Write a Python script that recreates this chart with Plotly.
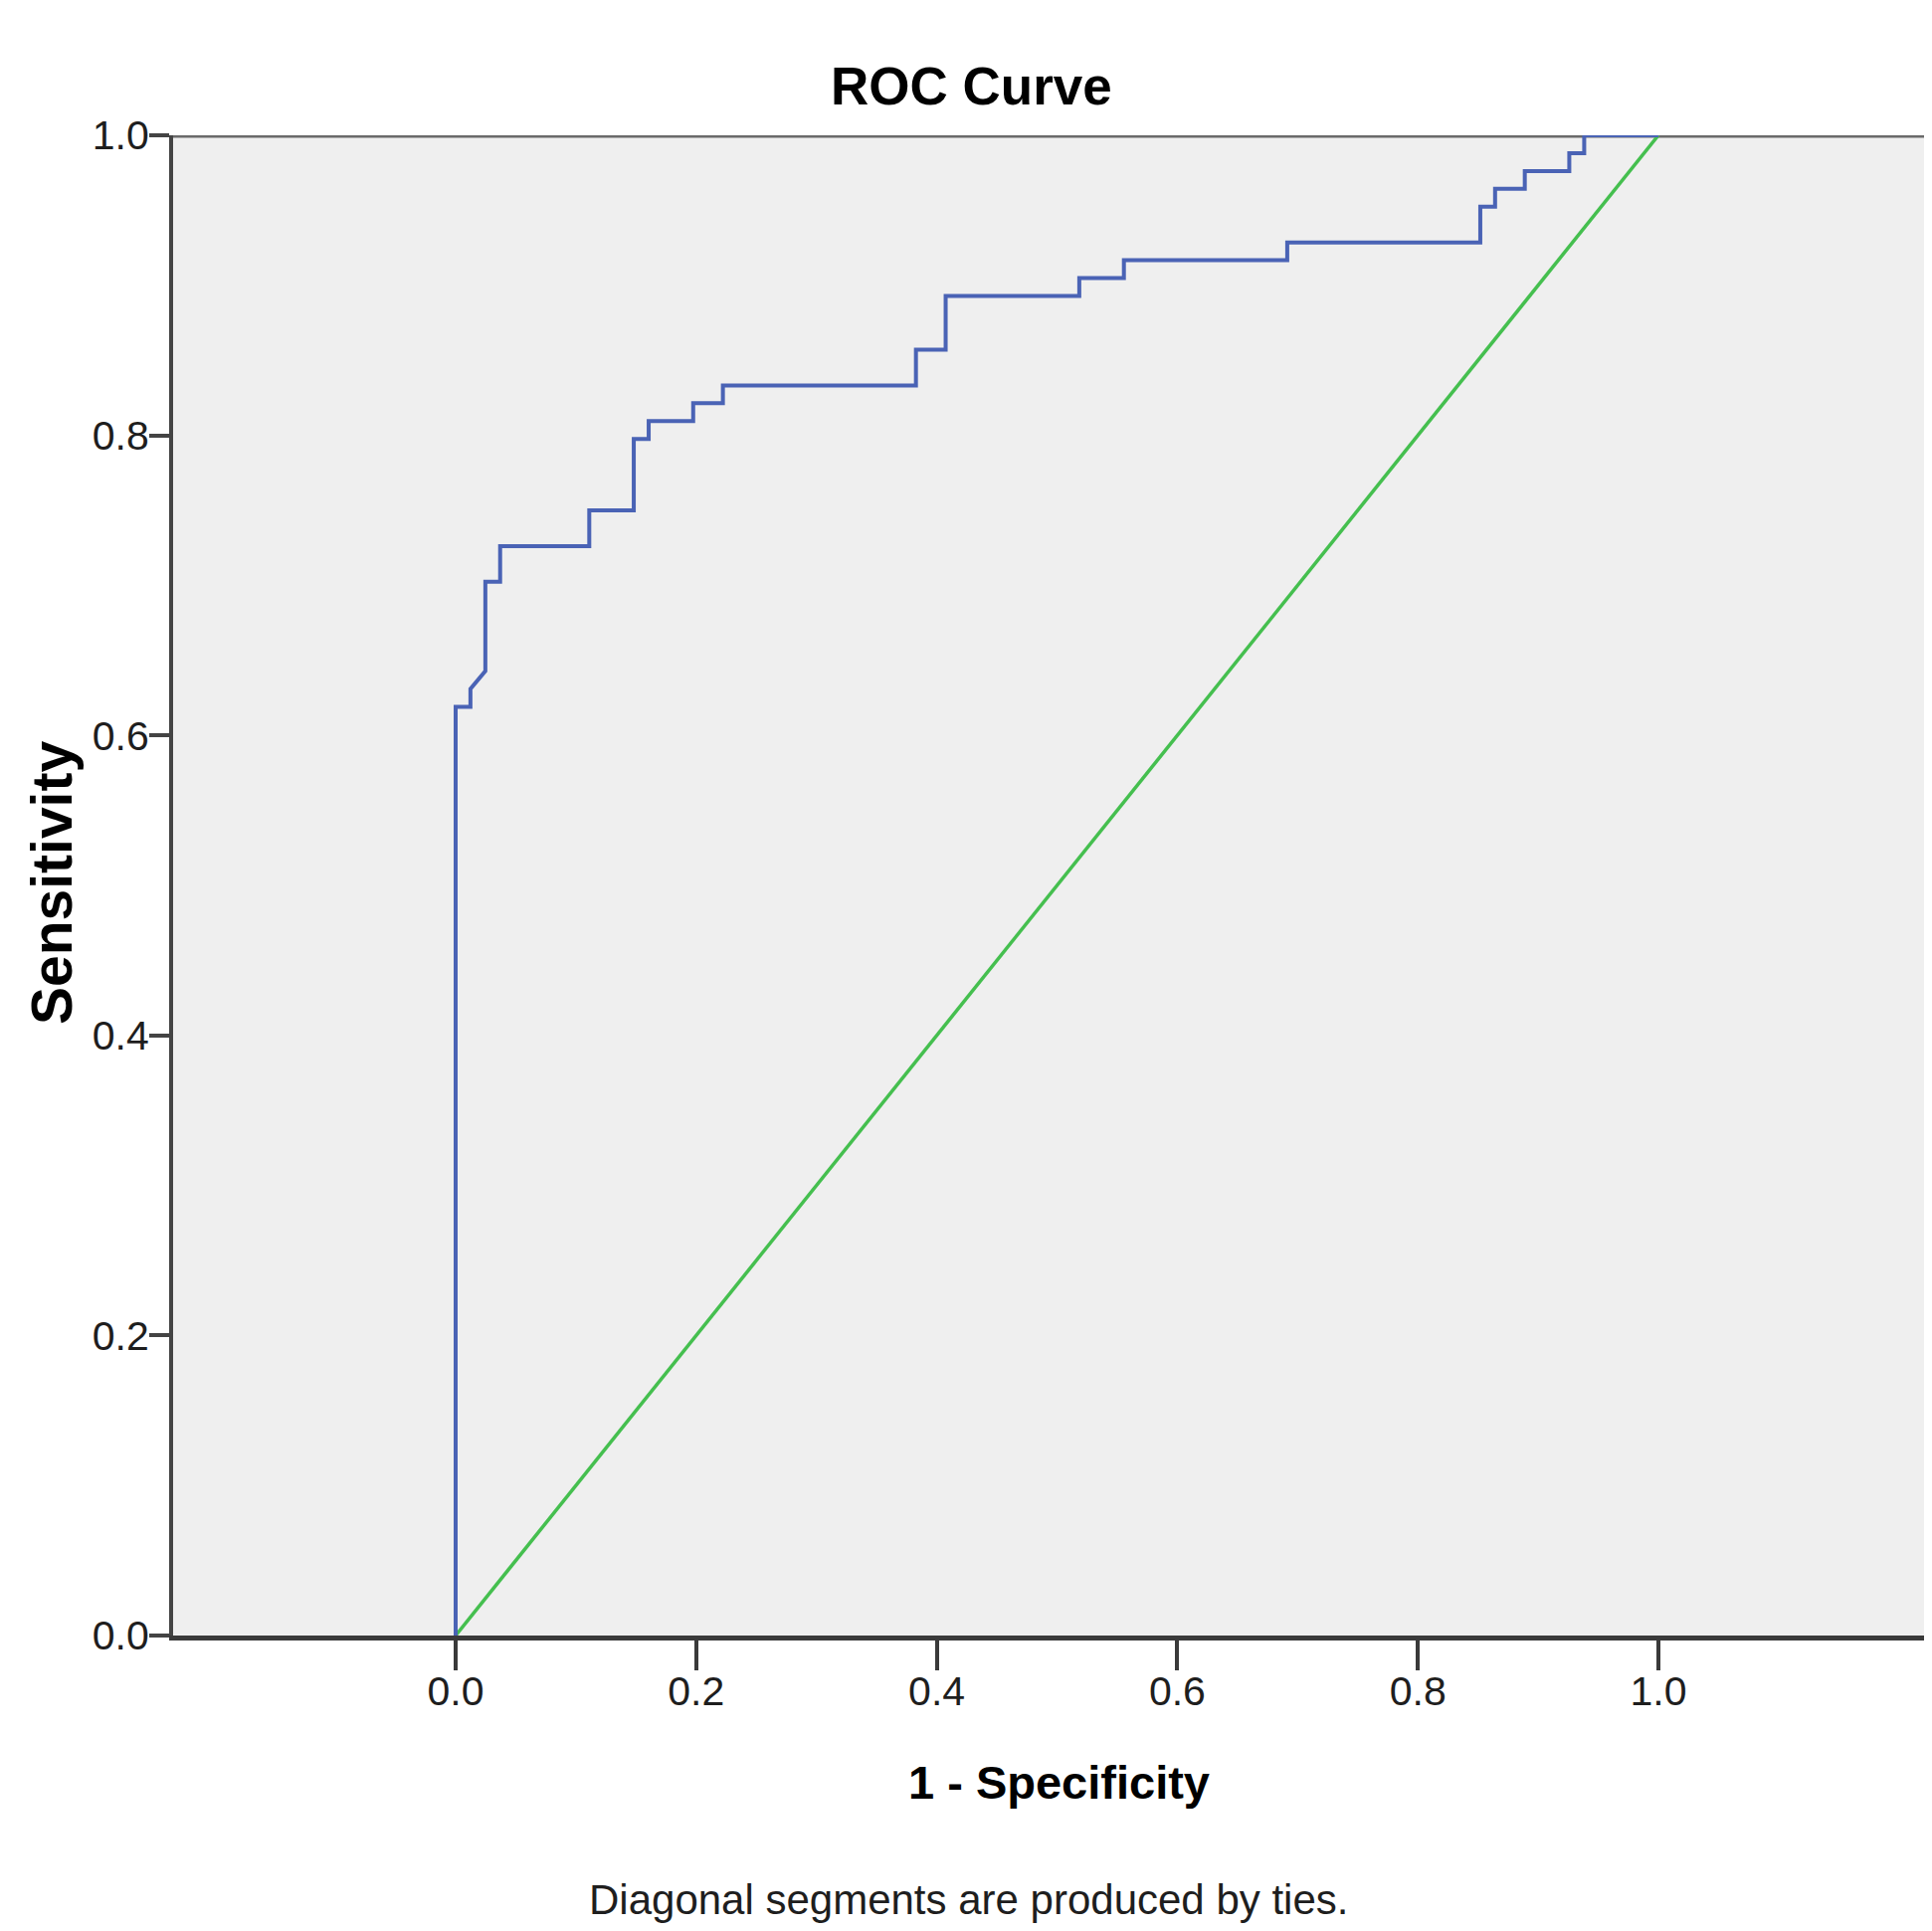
import plotly.graph_objects as go

# ROC curve points (1 - specificity, sensitivity)
fpr = [0.0, 0.0, 0.0123, 0.0123, 0.0247, 0.0247, 0.0370, 0.0370, 0.1111, 0.1111,
       0.1481, 0.1481, 0.1605, 0.1605, 0.1975, 0.1975, 0.2222, 0.2222, 0.3827, 0.3827,
       0.4074, 0.4074, 0.5185, 0.5185, 0.5556, 0.5556, 0.6914, 0.6914, 0.8519, 0.8519,
       0.8642, 0.8642, 0.8889, 0.8889, 0.9259, 0.9259, 0.9383, 0.9383, 1.0]
tpr = [0.0, 0.6190, 0.6190, 0.6310, 0.6429, 0.7024, 0.7024, 0.7262, 0.7262, 0.7500,
       0.7500, 0.7976, 0.7976, 0.8095, 0.8095, 0.8214, 0.8214, 0.8333, 0.8333, 0.8571,
       0.8571, 0.8929, 0.8929, 0.9048, 0.9048, 0.9167, 0.9167, 0.9286, 0.9286, 0.9524,
       0.9524, 0.9643, 0.9643, 0.9762, 0.9762, 0.9881, 0.9881, 1.0, 1.0]
ref_x = [0.0, 1.0]
ref_y = [0.0, 1.0]

tick_vals = [0.0, 0.2, 0.4, 0.6, 0.8, 1.0]
tick_text = ["0.0", "0.2", "0.4", "0.6", "0.8", "1.0"]

title_text = "ROC Curve"
x_title = "1 - Specificity"
y_title = "Sensitivity"
footnote = "Diagonal segments are produced by ties."

NARROW = "Liberation Sans Narrow, Arial Narrow, Liberation Sans, Arial, sans-serif"
WIDE = "Liberation Sans, Arial, sans-serif"

fig = go.Figure()
fig.add_trace(go.Scatter(x=ref_x, y=ref_y, mode="lines",
                         line=dict(color="#45bf4f", width=3.5), hoverinfo="skip",
                         showlegend=False, cliponaxis=False))
fig.add_trace(go.Scatter(x=fpr, y=tpr, mode="lines",
                         line=dict(color="#4a63b5", width=4), hoverinfo="skip",
                         showlegend=False, cliponaxis=False))

OFF = 8  # default page body margin
W, H = 1942 - OFF, 1941 - 2 * OFF
# desired page-pixel positions
PAGE_LEFT, PAGE_TOP, PAGE_BOTTOM = 174, 136, 1644
L = PAGE_LEFT - OFF
T = PAGE_TOP - OFF
B = H - (PAGE_BOTTOM - OFF)
R = 0
x0_px, x1_px = 458, 1667
ppu = x1_px - x0_px
plot_w = W - L - R
plot_h = H - T - B
xmin = -(x0_px - PAGE_LEFT) / ppu
xmax = xmin + plot_w / ppu

fig.update_layout(
    width=W, height=H,
    margin=dict(l=L, r=R, t=T, b=B, pad=0),
    paper_bgcolor="white",
    plot_bgcolor="#efefef",
    showlegend=False,
    xaxis=dict(range=[xmin, xmax], tickvals=tick_vals, ticktext=tick_text,
               showgrid=False, zeroline=False, showline=True,
               linecolor="#3a3a3a", linewidth=5,
               ticks="outside", ticklen=30, tickwidth=4, tickcolor="#3a3a3a",
               ticklabelstandoff=-14,
               tickfont=dict(family=NARROW, size=41, color="#1e1e1e")),
    yaxis=dict(range=[0, 1], tickvals=tick_vals, ticktext=tick_text,
               showgrid=False, zeroline=False, showline=True,
               linecolor="#444444", linewidth=4,
               ticks="outside", ticklen=20, tickwidth=4, tickcolor="#444444",
               ticklabelstandoff=-8,
               tickfont=dict(family=NARROW, size=41, color="#1e1e1e")),
)

fig.add_shape(type="line", xref="paper", yref="y", x0=0, x1=1, y0=1, y1=1,
              line=dict(color="#6a6a6a", width=5), layer="below")


def py(page_y):
    return (PAGE_BOTTOM - page_y) / plot_h


def pxp(page_x):
    return (page_x - PAGE_LEFT) / plot_w


fig.add_annotation(text="<b>" + title_text + "</b>", xref="paper", yref="paper",
                   x=pxp(976), y=py(86), xanchor="center", yanchor="middle",
                   showarrow=False, font=dict(family=NARROW, size=53, color="#000000"))
fig.add_annotation(text="<b>" + x_title + "</b>", xref="paper", yref="paper",
                   x=pxp(1064), y=py(1791), xanchor="center", yanchor="middle",
                   showarrow=False, font=dict(family=NARROW, size=47, color="#000000"))
fig.add_annotation(text="<b>" + y_title + "</b>", xref="paper", yref="paper",
                   x=pxp(52), y=py(887), xanchor="center", yanchor="middle",
                   textangle=-90, showarrow=False,
                   font=dict(family=WIDE, size=57, color="#000000"))
fig.add_annotation(text=footnote, xref="paper", yref="paper",
                   x=pxp(973), y=py(1910), xanchor="center", yanchor="middle",
                   showarrow=False, font=dict(family=NARROW, size=42, color="#1e1e1e"))

fig.write_html("out.html")
